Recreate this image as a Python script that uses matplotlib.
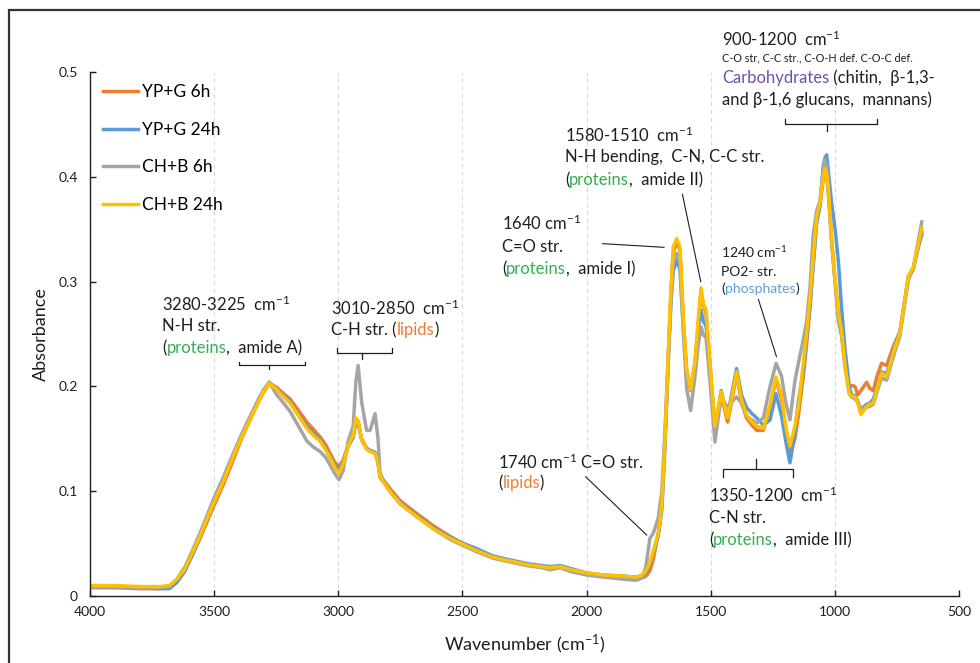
import matplotlib
matplotlib.use("Agg")
import matplotlib.pyplot as plt
from matplotlib.patches import Rectangle

plt.rcParams['font.family'] = ['Lato', 'DejaVu Sans']
plt.rcParams['mathtext.fontset'] = 'custom'
plt.rcParams['mathtext.rm'] = 'Lato'
plt.rcParams['mathtext.it'] = 'Lato:italic'
plt.rcParams['mathtext.bf'] = 'Lato:bold'

# FTIR spectra (wavenumber in cm-1, absorbance)
wn = [4000, 3900, 3800, 3720, 3680, 3650, 3617, 3590, 3557, 3530, 3503, 3460,
      3423, 3390, 3356, 3320, 3302, 3278, 3248, 3220, 3194, 3160, 3127, 3100,
      3074, 3050, 3033, 3015, 2997, 2980, 2960, 2940, 2929, 2920, 2906, 2886,
      2872, 2852, 2840, 2832, 2819, 2790, 2751, 2724, 2680, 2617, 2550, 2496,
      2450, 2376, 2300, 2241, 2180, 2147, 2107, 2060, 2000, 1930, 1852, 1800,
      1778, 1761, 1745, 1731, 1711, 1697, 1684, 1671, 1660, 1651, 1637, 1624,
      1610, 1597, 1581, 1563, 1550, 1539, 1530, 1519, 1503, 1483, 1458, 1432,
      1416, 1396, 1376, 1356, 1334, 1315, 1288, 1261, 1237, 1215, 1198, 1181,
      1161, 1147, 1127, 1114, 1100, 1087, 1073, 1060, 1047, 1040, 1033, 1026,
      1013, 999, 986, 973, 959, 942, 933, 919, 908, 895, 872, 859,
      845, 830, 812, 791, 765, 738, 704, 684, 667, 650]

yp_g_6h = [0.008, 0.008, 0.007, 0.007, 0.008, 0.014, 0.025, 0.038, 0.055, 0.070, 0.085, 0.108,
           0.130, 0.150, 0.168, 0.186, 0.194, 0.203, 0.199, 0.193, 0.188, 0.177, 0.166, 0.159,
           0.152, 0.144, 0.136, 0.128, 0.123, 0.130, 0.144, 0.152, 0.168, 0.166, 0.150, 0.141,
           0.138, 0.137, 0.128, 0.115, 0.111, 0.102, 0.091, 0.086, 0.078, 0.067, 0.057, 0.050,
           0.045, 0.038, 0.033, 0.030, 0.028, 0.026, 0.028, 0.025, 0.021, 0.019, 0.018, 0.017,
           0.017, 0.019, 0.024, 0.035, 0.060, 0.085, 0.148, 0.228, 0.290, 0.328, 0.338, 0.330,
           0.262, 0.215, 0.196, 0.222, 0.260, 0.290, 0.278, 0.270, 0.220, 0.158, 0.192, 0.166,
           0.185, 0.212, 0.185, 0.170, 0.163, 0.158, 0.158, 0.180, 0.207, 0.188, 0.158, 0.134,
           0.150, 0.172, 0.210, 0.240, 0.275, 0.318, 0.360, 0.372, 0.398, 0.405, 0.400, 0.383,
           0.338, 0.300, 0.268, 0.252, 0.222, 0.198, 0.201, 0.200, 0.192, 0.196, 0.204, 0.198,
           0.196, 0.210, 0.222, 0.220, 0.238, 0.252, 0.303, 0.312, 0.330, 0.347]

yp_g_24h = [0.009, 0.009, 0.008, 0.007, 0.007, 0.013, 0.024, 0.038, 0.056, 0.072, 0.088, 0.112,
            0.134, 0.153, 0.170, 0.188, 0.196, 0.204, 0.197, 0.191, 0.185, 0.173, 0.162, 0.155,
            0.149, 0.140, 0.133, 0.125, 0.120, 0.128, 0.143, 0.151, 0.167, 0.165, 0.149, 0.141,
            0.139, 0.137, 0.127, 0.113, 0.109, 0.100, 0.089, 0.084, 0.076, 0.065, 0.056, 0.050,
            0.046, 0.038, 0.034, 0.031, 0.029, 0.028, 0.029, 0.026, 0.022, 0.020, 0.019, 0.018,
            0.019, 0.022, 0.030, 0.042, 0.058, 0.082, 0.145, 0.222, 0.280, 0.310, 0.320, 0.312,
            0.255, 0.213, 0.197, 0.222, 0.255, 0.273, 0.262, 0.258, 0.218, 0.158, 0.196, 0.172,
            0.192, 0.217, 0.192, 0.180, 0.174, 0.170, 0.163, 0.168, 0.193, 0.172, 0.148, 0.127,
            0.155, 0.186, 0.215, 0.245, 0.278, 0.315, 0.356, 0.372, 0.410, 0.418, 0.421, 0.405,
            0.375, 0.350, 0.320, 0.275, 0.235, 0.200, 0.192, 0.191, 0.186, 0.178, 0.183, 0.184,
            0.188, 0.200, 0.214, 0.212, 0.234, 0.252, 0.305, 0.313, 0.330, 0.345]

ch_b_6h = [0.008, 0.008, 0.008, 0.008, 0.009, 0.016, 0.028, 0.042, 0.060, 0.076, 0.092, 0.115,
           0.136, 0.154, 0.171, 0.188, 0.196, 0.204, 0.192, 0.184, 0.176, 0.162, 0.148, 0.142,
           0.138, 0.132, 0.125, 0.117, 0.111, 0.120, 0.148, 0.162, 0.205, 0.220, 0.185, 0.158,
           0.158, 0.174, 0.150, 0.118, 0.110, 0.099, 0.088, 0.083, 0.075, 0.064, 0.054, 0.048,
           0.043, 0.036, 0.032, 0.029, 0.027, 0.025, 0.027, 0.023, 0.020, 0.018, 0.016, 0.015,
           0.017, 0.028, 0.055, 0.060, 0.075, 0.100, 0.160, 0.230, 0.285, 0.318, 0.327, 0.318,
           0.250, 0.198, 0.177, 0.210, 0.240, 0.257, 0.249, 0.247, 0.205, 0.147, 0.190, 0.180,
           0.185, 0.190, 0.184, 0.172, 0.168, 0.165, 0.170, 0.200, 0.222, 0.210, 0.185, 0.168,
           0.205, 0.222, 0.245, 0.262, 0.295, 0.345, 0.368, 0.377, 0.405, 0.416, 0.410, 0.390,
           0.338, 0.298, 0.262, 0.248, 0.218, 0.193, 0.190, 0.188, 0.185, 0.178, 0.180, 0.181,
           0.183, 0.195, 0.208, 0.206, 0.228, 0.248, 0.302, 0.313, 0.335, 0.357]

ch_b_24h = [0.010, 0.010, 0.009, 0.009, 0.010, 0.016, 0.026, 0.040, 0.057, 0.073, 0.088, 0.111,
            0.133, 0.151, 0.168, 0.186, 0.195, 0.203, 0.197, 0.190, 0.184, 0.172, 0.160, 0.153,
            0.148, 0.139, 0.132, 0.123, 0.117, 0.126, 0.144, 0.153, 0.170, 0.167, 0.149, 0.140,
            0.138, 0.136, 0.127, 0.114, 0.109, 0.099, 0.088, 0.083, 0.075, 0.064, 0.055, 0.049,
            0.044, 0.037, 0.033, 0.030, 0.028, 0.027, 0.028, 0.025, 0.022, 0.020, 0.019, 0.018,
            0.020, 0.024, 0.032, 0.043, 0.060, 0.087, 0.150, 0.232, 0.295, 0.333, 0.341, 0.333,
            0.263, 0.216, 0.197, 0.225, 0.265, 0.294, 0.279, 0.273, 0.222, 0.162, 0.195, 0.170,
            0.188, 0.214, 0.187, 0.173, 0.166, 0.162, 0.160, 0.182, 0.209, 0.192, 0.162, 0.143,
            0.162, 0.181, 0.222, 0.250, 0.285, 0.324, 0.362, 0.375, 0.400, 0.408, 0.402, 0.387,
            0.340, 0.302, 0.270, 0.254, 0.219, 0.193, 0.191, 0.190, 0.184, 0.173, 0.181, 0.183,
            0.184, 0.198, 0.213, 0.209, 0.232, 0.251, 0.305, 0.314, 0.332, 0.351]

labels = ['YP+G 6h', 'YP+G 24h', 'CH+B 6h', 'CH+B 24h']
colors = ['#ED7D31', '#5B9BD5', '#A5A5A5', '#FFC000']
x_ticks = [4000, 3500, 3000, 2500, 2000, 1500, 1000, 500]
y_ticks = [0, 0.1, 0.2, 0.3, 0.4, 0.5]
y_tick_labels = ['0', '0.1', '0.2', '0.3', '0.4', '0.5']

TXT = '#1E1E1E'
GREEN = '#33B04F'
ORANGE = '#ED7D31'
BLUE = '#5B9BD5'
PURPLE = '#7050A8'


def rich_line(ax, x, y, parts, size=12):
    # one line of text made of differently coloured pieces
    t = ax.text(x, y, parts[0][0], color=parts[0][1], fontsize=size,
                ha='left', va='center')
    for s, c in parts[1:]:
        t = ax.annotate(s, xy=(1, 0), xycoords=t, color=c, fontsize=size,
                        ha='left', va='bottom')
    return t


def bracket(ax, x1, x2, y, h, xm=None):
    # square bracket over a wavenumber range; h>0 ends up / middle down
    if xm is None:
        xm = (x1 + x2) / 2
    ax.plot([x1, x1, x2, x2], [y + h, y, y, y + h], color=TXT, lw=0.9, clip_on=False)
    ax.plot([xm, xm], [y, y - h * 1.3], color=TXT, lw=0.9, clip_on=False)


def leader(ax, p1, p2):
    ax.plot([p1[0], p2[0]], [p1[1], p2[1]], color=TXT, lw=0.8, clip_on=False)


fig = plt.figure(figsize=(9.8, 6.63), dpi=100)
ax = fig.add_axes([90 / 980, 67 / 663, 869 / 980, 524 / 663])

series = [yp_g_6h, yp_g_24h, ch_b_6h, ch_b_24h]
for vals, lab, col in zip(series, labels, colors):
    ax.plot(wn, vals, color=col, lw=2.5, label=lab, solid_joinstyle='round')

ax.set_xlim(4000, 500)
ax.set_ylim(0, 0.5)
ax.set_xticks(x_ticks)
ax.set_yticks(y_ticks)
ax.set_yticklabels(y_tick_labels)
ax.tick_params(direction='in', length=4, width=1, colors=TXT, labelsize=10)
ax.tick_params(axis='x', pad=7)
ax.tick_params(axis='y', pad=9)
ax.xaxis.grid(True, linestyle=(0, (4, 3)), color='#D9D9D9', lw=0.8)
ax.set_axisbelow(True)
for side in ['top', 'right']:
    ax.spines[side].set_visible(False)
for side in ['left', 'bottom']:
    ax.spines[side].set_color(TXT)
    ax.spines[side].set_linewidth(1)

ax.set_xlabel('Wavenumber (cm$^{-1}$)', fontsize=13, color=TXT)
ax.set_ylabel('Absorbance', fontsize=13, color=TXT)
ax.xaxis.set_label_coords(0.5, -0.07)
ax.yaxis.set_label_coords(-0.047, 0.5)

ax.legend(loc='upper left', bbox_to_anchor=(103 / 980, 1 - 84 / 663),
          bbox_transform=fig.transFigure, frameon=False, fontsize=12.5,
          handlelength=2.0, handletextpad=0.25, labelspacing=1.25,
          borderpad=0, borderaxespad=0)

# amide A
ax.text(3710, 0.2786, '3280-3225  cm$^{-1}$', fontsize=12, color=TXT, va='center')
ax.text(3710, 0.2576, 'N-H str.', fontsize=12, color=TXT, va='center')
rich_line(ax, 3710, 0.2366, [('(', TXT), ('proteins', GREEN), (',  amide A)', TXT)])
bracket(ax, 3400, 3134, 0.2204, 0.003, xm=3279)

# C-H lipids
ax.text(3029, 0.2748, '3010-2850  cm$^{-1}$', fontsize=12, color=TXT, va='center')
rich_line(ax, 3029, 0.2538, [('C-H str. (', TXT), ('lipids', ORANGE), (')', TXT)])
bracket(ax, 3005, 2784, 0.2319, 0.0047, xm=2905)

# amide I
ax.text(2341, 0.3559, '1640 cm$^{-1}$', fontsize=12, color=TXT, va='center')
ax.text(2341, 0.3330, 'C=O str.', fontsize=12, color=TXT, va='center')
rich_line(ax, 2341, 0.3120, [('(', TXT), ('proteins', GREEN), (',  amide I)', TXT)])
leader(ax, (1935, 0.3362), (1688, 0.3327))

# amide II
ax.text(2087, 0.4399, '1580-1510  cm$^{-1}$', fontsize=12, color=TXT, va='center')
ax.text(2087, 0.4189, 'N-H bending,  C-N, C-C str.', fontsize=12, color=TXT, va='center')
rich_line(ax, 2087, 0.3970, [('(', TXT), ('proteins', GREEN), (',  amide II)', TXT)])
leader(ax, (1614, 0.3833), (1540, 0.2999))

# carbohydrates
ax.text(1455, 0.5315, '900-1200  cm$^{-1}$', fontsize=12, color=TXT, va='center')
ax.text(1455, 0.5134, 'C-O str, C-C str., C-O-H def. C-O-C def.', fontsize=7.8,
        color=TXT, va='center')
rich_line(ax, 1455, 0.4943, [('Carbohydrates', PURPLE), (' (chitin,  β-1,3-', TXT)])
ax.text(1455, 0.4733, 'and β-1,6 glucans,  mannans)', fontsize=12, color=TXT, va='center')
bracket(ax, 1201, 829, 0.4504, 0.0048, xm=1031)

# phosphates
ax.text(1459, 0.3282, '1240 cm$^{-1}$', fontsize=10, color=TXT, va='center')
ax.text(1459, 0.3092, 'PO2- str.', fontsize=10, color=TXT, va='center')
rich_line(ax, 1459, 0.2929, [('(', TXT), ('phosphates', BLUE), (')', TXT)], size=10)
leader(ax, (1308, 0.2831), (1235, 0.2283))

# lipid carbonyl
ax.text(2357, 0.1279, '1740 cm$^{-1}$ C=O str.', fontsize=12, color=TXT, va='center')
rich_line(ax, 2357, 0.1078, [('(', TXT), ('lipids', ORANGE), (')', TXT)])
leader(ax, (2004, 0.1138), (1758, 0.0582))

# amide III
ax.text(1507, 0.0964, '1350-1200  cm$^{-1}$', fontsize=12, color=TXT, va='center')
ax.text(1507, 0.0744, 'C-N str.', fontsize=12, color=TXT, va='center')
rich_line(ax, 1507, 0.0534, [('(', TXT), ('proteins', GREEN), (',  amide III)', TXT)])
bracket(ax, 1449, 1167, 0.1209, -0.0076, xm=1319)

# outer frame
fig.add_artist(Rectangle((8.5 / 980, -0.05), 2, 1.035, transform=fig.transFigure,
                         fill=False, edgecolor='#333333', lw=1.6))

fig.savefig('out.png', dpi=100)
